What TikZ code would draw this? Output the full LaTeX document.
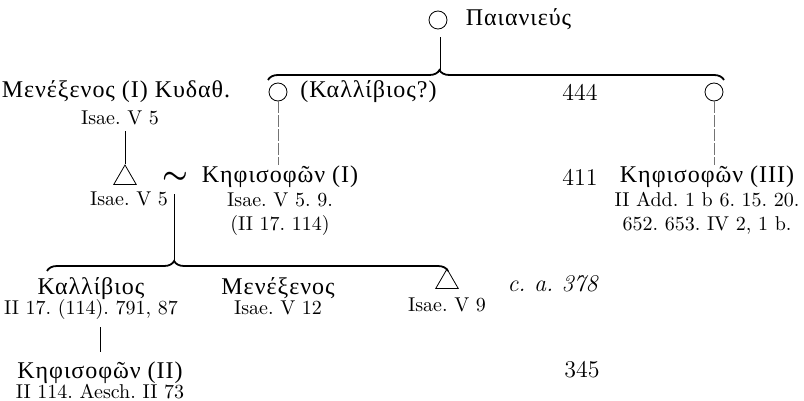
\documentclass[tikz,border=0pt]{standalone}
\usepackage{fontspec}
\newfontfamily\grfont[LetterSpace=4]{Liberation Serif}
\usepackage{tikz}
\usetikzlibrary{shapes.geometric, positioning, decorations.pathreplacing}
\frenchspacing
\tikzset{
  namenode/.style={inner sep=0pt, text height=9pt, text depth=3pt,
                   font=\grfont\fontsize{12}{14}\selectfont},
  refnode/.style={inner sep=0pt, text height=7pt, text depth=2pt,
                  font=\normalsize},
  yearnode/.style={inner sep=0pt, anchor=east, font=\large},
  anonman/.style={circle, draw, thin, minimum size=9pt, inner sep=0pt},
  anonkin/.style={regular polygon, regular polygon sides=3, draw, thin,
                  minimum size=13pt, inner sep=0pt},
  kinline/.style={thin},
  doubtline/.style={very thin, black!55, dash pattern=on 6pt off 1pt},
  sibbrace/.style={decorate, decoration={brace, amplitude=5pt, aspect=#1},
                   line width=0.9pt}
}

\begin{document}
\begin{tikzpicture}[x=0.5pt, y=-0.5pt, node distance=1.5pt]
  \useasboundingbox (0,0) rectangle (804,401);
  % Paiania, first generation
  \node[anonman] (pai) at (438,20) {};
  \node[namenode, right=9pt of pai] (painame) {Παιανιεύς};
  \coordinate (topL) at (268,80);
  \coordinate (topR) at (724,80);
  \coordinate (toptip) at (440,70);
  \draw[sibbrace=0.376] (topL) -- (topR);
  \draw[kinline, shorten <=4pt] (pai.south -| toptip) -- (toptip);

  % second generation
  \node[namenode] (men1) at (116,92) {Μενέξενος (I) Κυδαθ.};
  \node[refnode, below=3pt of men1, xshift=2pt] (men1ref) {Isae. V 5};
  \node[anonman] (kal) at (278,92) {};
  \node[namenode, anchor=west] (kalname) at (300,92) {(Καλλίβιος?)};
  \node[yearnode] (y444) at (598,92) {444};
  \node[anonman] (anon3) at (714,92) {};

  % third generation
  \node[anonkin] (tri1) at (125,178) {};
  \node[refnode, below=3pt of tri1, xshift=2pt] (tri1ref) {Isae. V 5};
  \node[inner sep=0pt, font=\Large\boldmath] (marr) at (175,178) {$\sim$};
  \node[namenode] (keph1) at (280,177) {Κηφισοφῶν (I)};
  \node[refnode, below=1.5pt of keph1] (keph1refa) {Isae. V 5. 9.};
  \node[refnode, below=2.5pt of keph1refa] (keph1refb) {(II 17. 114)};
  \node[yearnode] (y411) at (598,177) {411};
  \node[namenode] (keph3) at (707,177) {Κηφισοφῶν (III)};
  \node[refnode, below=1.5pt of keph3] (keph3refa) {II Add. 1 b 6. 15. 20.};
  \node[refnode, below=2.5pt of keph3refa] (keph3refb) {652. 653. IV 2, 1 b.};

  \draw[kinline, shorten <=1pt] (tri1.north |- men1ref.south) -- (tri1.north);
  \foreach \from/\to in {kal/keph1, anon3/keph3}
    \draw[doubtline] (\from) -- (\from |- \to.north);

  % children of Kephisophon (I)
  \coordinate (lowL) at (47,271);
  \coordinate (lowR) at (448,271);
  \coordinate (lowtip) at (174,261);
  \draw[sibbrace=0.317] (lowL) -- (lowR);
  \draw[kinline, shorten <=5pt] (marr.south -| lowtip) -- (lowtip);

  \node[namenode] (kal2) at (91,288) {Καλλίβιος};
  \node[refnode, below=0pt of kal2] (kal2ref) {II 17. (114). 791, 87};
  \node[namenode] (men2) at (278,288) {Μενέξενος};
  \node[refnode, below=0pt of men2] (men2ref) {Isae. V 12};
  \node[anonkin] (tri2) at (447,282) {};
  \node[refnode, below=4pt of tri2] (tri2ref) {Isae. V 9};
  \node[yearnode, font=\large\itshape] (y378) at (598,284) {c. a. 378};

  % fourth generation
  \node[namenode] (keph2) at (100,372) {Κηφισοφῶν (II)};
  \node[refnode, below=0pt of keph2] (keph2ref) {II 114. Aesch. II 73};
  \node[yearnode] (y345) at (600,370) {345};
  \draw[kinline, shorten <=4pt, shorten >=4pt]
    (keph2.north |- kal2ref.south) -- (keph2.north);
\end{tikzpicture}
\end{document}
